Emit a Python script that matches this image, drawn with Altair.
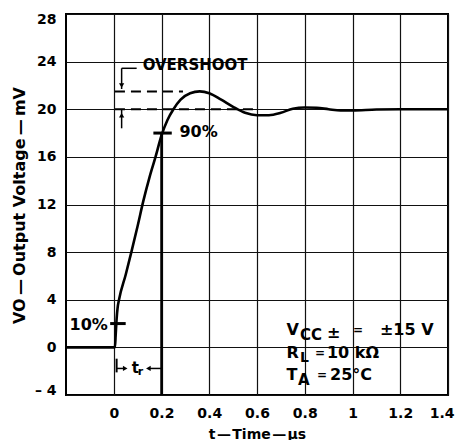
import altair as alt
import pandas as pd

# ---- data ----
curve_t = [-0.2, 0.0, 0.005, 0.008, 0.012, 0.016, 0.022, 0.05, 0.075, 0.1, 0.124, 0.15,
           0.175, 0.2, 0.225, 0.25, 0.28, 0.32, 0.36, 0.4, 0.45, 0.5, 0.55, 0.6, 0.65,
           0.7, 0.75, 0.8, 0.85, 0.9, 0.95, 1.0, 1.1, 1.2, 1.4]
curve_v = [0.0, 0.0, 0.0, 1.0, 2.4, 3.3, 4.0, 6.1, 8.1, 10.2, 12.3, 14.3,
           16.0, 17.8, 19.1, 20.0, 20.8, 21.35, 21.5, 21.35, 20.8, 20.2, 19.7, 19.5, 19.5,
           19.7, 20.05, 20.15, 20.12, 20.0, 19.9, 19.9, 19.98, 20.0, 20.0]

x_ticks = [0, 0.2, 0.4, 0.6, 0.8, 1.0, 1.2, 1.4]
y_ticks = [-4, 0, 4, 8, 12, 16, 20, 24, 28]

# annotation segments: x, y, x2, y2, width
seg_x = [0.2, -0.015, 0.166, 0.033, 0.033, 0.033, 0.012, 0.012, 0.15]
seg_y = [-4, 2, 18, 23.44, 23.44, 20, -0.95, -1.77, -1.77]
seg_x2 = [0.2, 0.05, 0.243, 0.096, 0.033, 0.033, 0.012, 0.045, 0.2]
seg_y2 = [18, 2, 18, 23.44, 21.7, 18.4, -2.1, -1.77, -1.77]
seg_w = [2.5, 3, 3, 1.5, 1.5, 1.5, 2, 1.5, 1.5]

dash_x = [0.005, 0.005]
dash_y = [21.5, 20]
dash_x2 = [0.29, 0.6]

arrow_x = [0.033, 0.033, 0.048, 0.145]
arrow_y = [22.0, 19.5, -1.77, -1.77]
arrow_shape = ["triangle-down", "triangle-up", "triangle-right", "triangle-left"]

label_text = ["OVERSHOOT", "90%", "10%", "t", "r",
              "V", "CC", "±", "=", "±15 V",
              "R", "L", "=", "10  kΩ",
              "T", "A", "=", "25°C"]
label_x = [0.121, 0.275, -0.185, 0.075, 0.1,
           0.724, 0.78, 0.893, 1.002, 1.115,
           0.724, 0.78, 0.843, 0.893,
           0.724, 0.772, 0.851, 0.906]
label_y = [23.69, 18.11, 1.88, -1.77, -2.1,
           1.46, 1.04, 1.2, 1.46, 1.46,
           -0.47, -0.89, -0.47, -0.47,
           -2.32, -2.74, -2.32, -2.32]
label_size = [15, 16, 16, 15, 11,
              16, 15, 16, 12, 16,
              16, 14, 12, 16,
              16, 15, 12, 16]

FONT = "DejaVu Sans"

curve_df = pd.DataFrame({"x": curve_t, "y": curve_v})
seg_df = pd.DataFrame({"x": seg_x, "y": seg_y, "x2": seg_x2, "y2": seg_y2, "w": seg_w})
dash_df = pd.DataFrame({"x": dash_x, "y": dash_y, "x2": dash_x2})
arrow_df = pd.DataFrame({"x": arrow_x, "y": arrow_y, "shape": arrow_shape})
label_df = pd.DataFrame({"x": label_x, "y": label_y, "text": label_text, "size": label_size})

xscale = alt.Scale(domain=[-0.2, 1.4], nice=False, zero=False)
yscale = alt.Scale(domain=[-4, 28], nice=False, zero=False)

xaxis = alt.Axis(values=x_ticks, format="~g", ticks=False, tickSize=0, domain=False,
                 grid=True, gridColor="#111", gridWidth=1.2,
                 labelFlush=True, labelFlushOffset=6,
                 labelFont=FONT, labelFontWeight="bold", labelFontSize=14, labelColor="black",
                 labelPadding=11,
                 titleFont=FONT, titleFontWeight="bold", titleFontSize=14, titleColor="black",
                 titleX=191, titleY=39, titleBaseline="middle")
yaxis = alt.Axis(values=y_ticks, ticks=False, tickSize=0, domain=False,
                 grid=True, gridColor="#111", gridWidth=1.2,
                 labelFlush=True, labelFlushOffset=2,
                 labelExpr="datum.value < 0 ? '– ' + abs(datum.value) : datum.label",
                 labelFont=FONT, labelFontWeight="bold", labelFontSize=14, labelColor="black",
                 labelPadding=10,
                 titleFont=FONT, titleFontWeight="bold", titleFontSize=16, titleColor="black",
                 titleX=-47, titleY=191, titleBaseline="middle")

XT = "t\u200a—\u200aTime\u200a—\u200aµs"
YT = "VO\u2009—\u2009Output Voltage\u2009—\u2009mV"

X = alt.X("x:Q", scale=xscale, axis=xaxis, title=XT)
Y = alt.Y("y:Q", scale=yscale, axis=yaxis, title=YT)

curve = alt.Chart(curve_df).mark_line(color="black", strokeWidth=2.6, interpolate="monotone").encode(
    x=X, y=Y)

segs = alt.Chart(seg_df).mark_rule(color="black").encode(
    x=X, y=Y, x2="x2:Q", y2="y2:Q", size=alt.Size("w:Q", scale=None, legend=None))

dashes = alt.Chart(dash_df).mark_rule(color="black", strokeWidth=2, strokeDash=[10, 6]).encode(
    x=X, y=Y, x2="x2:Q")

arrows = alt.Chart(arrow_df).mark_point(filled=True, color="black", opacity=1, size=28).encode(
    x=X, y=Y, shape=alt.Shape("shape:N", scale=None, legend=None))

labels = alt.Chart(label_df).mark_text(align="left", baseline="middle", font=FONT,
                                       fontWeight="bold", color="black").encode(
    x=X, y=Y, text="text:N", size=alt.Size("size:Q", scale=None, legend=None))

chart = alt.layer(curve, dashes, segs, arrows, labels).properties(
    width=382, height=381,
    autosize=alt.AutoSizeParams(type="none"),
    padding={"left": 58, "top": 6, "right": 7, "bottom": 45},
    background="white",
).configure_view(stroke="black", strokeWidth=2)

chart.save("out.html", embed_options={"renderer": "svg", "actions": False})
